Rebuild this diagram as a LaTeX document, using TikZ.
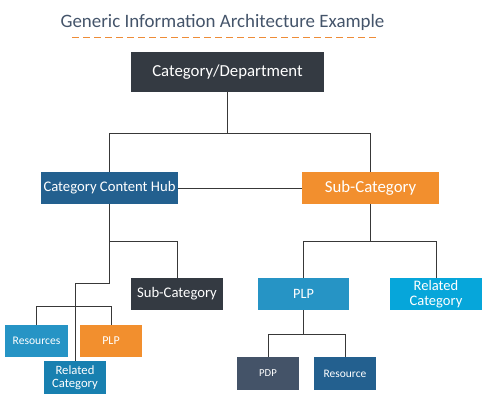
\documentclass[tikz,border=0pt]{standalone}
\usepackage{fontspec}
\setmainfont{Carlito}
\usetikzlibrary{calc}
\definecolor{titleblue}{RGB}{68,84,106}
\definecolor{dashorange}{RGB}{238,140,55}
\definecolor{darkslate}{RGB}{52,58,66}
\definecolor{hubblue}{RGB}{35,96,143}
\definecolor{catorange}{RGB}{242,143,46}
\definecolor{midblue}{RGB}{38,148,197}
\definecolor{deepblue}{RGB}{24,128,176}
\definecolor{skyblue}{RGB}{6,166,218}
\definecolor{slateblue}{RGB}{68,83,104}
\tikzset{
	iabox/.style 2 args={rectangle, inner sep=0pt, text=white, align=center,
		minimum width=#1*0.75pt, minimum height=#2*0.75pt},
	iafont/.style 2 args={font=\fontsize{#1pt}{#2pt}\selectfont},
	link/.style={line width=0.75pt, color=black!78}
}

\begin{document}
\begin{tikzpicture}[x=0.75pt, y=-0.75pt]
			%%%%% START %%%%%
			\useasboundingbox (0, 0) rectangle (490, 407);
			
			\node[text=titleblue, iafont={14.2}{15}] (title) at (222.5, 22) {Generic Information Architecture Example};
			\draw[dashorange, line width=1.1pt, dash pattern=on 5.25pt off 3pt] (72, 37.5) -- (377, 37.5);
			
			\node[iabox={193}{40}, fill=darkslate, iafont={12.6}{13.2}] (dept) at (227.5, 72) {Category/Department};
			
			\node[iabox={137}{32}, fill=hubblue, iafont={11}{11.6}] (hub) at (109.5, 188) {Category Content Hub};
			\node[iabox={137}{32}, fill=catorange, iafont={12.6}{13.2}] (sub) at (370.5, 188) {Sub-Category};
			
			\node[iabox={92}{32}, fill=darkslate, iafont={11}{11.6}] (hubsub) at (177, 294) {Sub-Category};
			\node[iabox={63}{32}, fill=midblue, iafont={8.7}{9.1}] (hubres) at (36.5, 341) {Resources};
			\node[iabox={62}{32}, fill=catorange, iafont={9}{9.5}] (hubplp) at (111, 341) {PLP};
			\node[iabox={62}{33}, fill=deepblue, iafont={9.5}{10}] (hubrel) at (75, 377.5) {Related\\Category};
			
			\node[iabox={91}{32}, fill=midblue, iafont={10.7}{11.2}] (subplp) at (303.5, 294) {PLP};
			\node[iabox={92}{32}, fill=skyblue, iafont={10.9}{11.5}] (subrel) at (436, 294) {Related\\Category};
			\node[iabox={62}{33}, fill=slateblue, iafont={8}{8.4}] (pdp) at (268, 373.5) {PDP};
			\node[iabox={62}{33}, fill=hubblue, iafont={8.6}{9}] (subres) at (345, 373.5) {Resource};
			
			% joints
			\coordinate (topj) at (dept.south |- 0, 133);
			\coordinate (hubj) at (hub.south |- 0, 241);
			\coordinate (hubk) at (hub.south |- 0, 283);
			\coordinate (relj) at (hubrel.north |- 0, 306);
			\coordinate (subj) at (sub.south |- 0, 241);
			\coordinate (plpj) at (subplp.south |- 0, 334);
			
			\draw[link] (dept.south) -- (topj) -| (hub.north);
			\draw[link] (topj) -| (sub.north);
			\draw[link] (hub.east) -- (sub.west);
			
			\draw[link] (hub.south) -- (hubj) -| (hubsub.north);
			\draw[link] (hubj) -- (hubk) -| (hubrel.north);
			\draw[link] (relj) -| (hubres.north);
			\draw[link] (relj) -| (hubplp.north);
			
			\draw[link] (sub.south) -- (subj) -| (subplp.north);
			\draw[link] (subj) -| (subrel.north);
			\draw[link] (subplp.south) -- (plpj) -| (pdp.north);
			\draw[link] (plpj) -| (subres.north);
			
			%%%%% END %%%%%
\end{tikzpicture}
\end{document}
